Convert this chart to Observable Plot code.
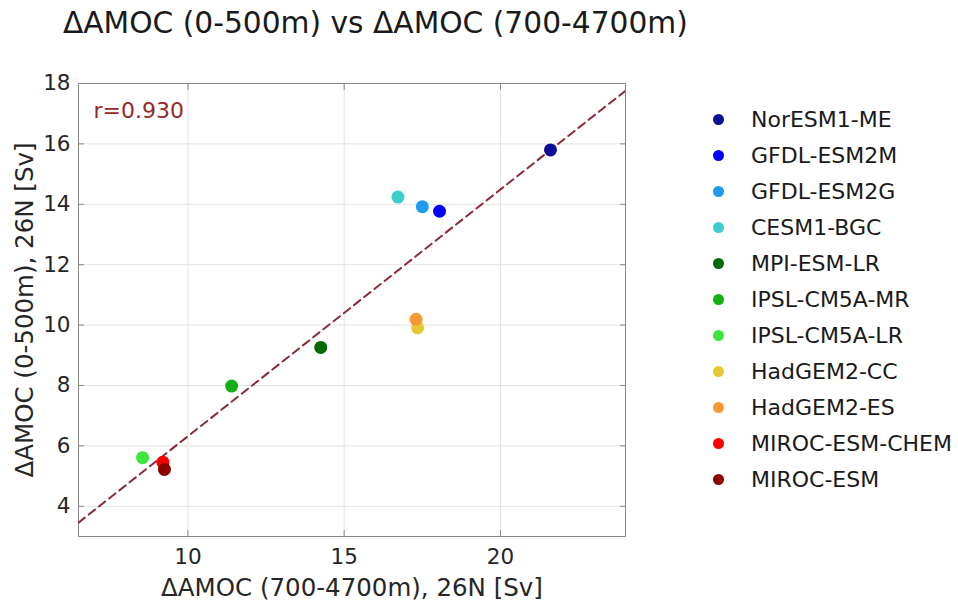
<!DOCTYPE html>
<html>
<head>
<meta charset="utf-8">
<script src="https://cdn.jsdelivr.net/npm/d3@7"></script>
<script src="https://cdn.jsdelivr.net/npm/@observablehq/plot@0.6"></script>
<style>
  html, body { margin: 0; padding: 0; background: #fff; }
  #wrap { position: relative; width: 958px; height: 601px; font-family: "DejaVu Sans", sans-serif; color: #262626; }
  #title { height: 42px; padding-top: 8px; padding-left: 63px; font-size: 29.7px; line-height: 30px; color: #1a1a1a; white-space: nowrap; }
  #legend { position: absolute; left: 712px; top: 101px; }
  .row { display: flex; align-items: center; height: 36.1px; font-size: 22px; color: #1a1a1a; white-space: nowrap; }
  .sw { width: 11px; height: 11px; border-radius: 50%; margin-left: 1px; margin-right: 27px; flex: none; }
</style>
</head>
<body>
<div id="wrap">
  <div id="title"></div>
  <div id="chart"></div>
  <div id="legend"></div>
</div>
<script>
const titleText = "ΔAMOC (0-500m) vs ΔAMOC (700-4700m)";
const xLabel = "ΔAMOC (700-4700m), 26N [Sv]";
const yLabel = "ΔAMOC (0-500m), 26N [Sv]";

const models = ["NorESM1-ME", "GFDL-ESM2M", "GFDL-ESM2G", "CESM1-BGC", "MPI-ESM-LR",
  "IPSL-CM5A-MR", "IPSL-CM5A-LR", "HadGEM2-CC", "HadGEM2-ES", "MIROC-ESM-CHEM", "MIROC-ESM"];
const deepAmoc = [21.6, 18.05, 17.5, 16.72, 14.25, 11.4, 8.55, 17.35, 17.3, 9.2, 9.25];
const upperAmoc = [15.8, 13.77, 13.92, 14.24, 9.26, 7.98, 5.61, 9.91, 10.19, 5.46, 5.22];
const colors = ["#0c0c94", "#0000fa", "#1e9bf0", "#3ccdcd", "#006a00",
  "#12b012", "#3ce63c", "#e6c832", "#f59a32", "#fa0000", "#8c0000"];

const rValue = 0.930;
const fitX = [6.5, 24];
const fitY = [3.46, 17.76];

const xTicks = [10, 15, 20];
const yTicks = [4, 6, 8, 10, 12, 14, 16, 18];
const xDomain = [6.5, 24];
const yDomain = [3, 18];

const points = models.map((m, i) => ({model: m, x: deepAmoc[i], y: upperAmoc[i], color: colors[i]}));
const fit = fitX.map((x, i) => ({x, y: fitY[i]}));

document.getElementById("title").textContent = titleText;

const frameColor = "#8a8a8a";
const plot = Plot.plot({
  width: 958,
  height: 551,
  marginLeft: 78,
  marginRight: 333,
  marginTop: 33,
  marginBottom: 65,
  x: {domain: xDomain},
  y: {domain: yDomain},
  color: {type: "identity"},
  style: {fontFamily: "DejaVu Sans, sans-serif", color: "#262626", background: "#fff"},
  marks: [
    Plot.gridX(xTicks, {stroke: "#e3e3e3", strokeOpacity: 1}),
    Plot.gridY(yTicks, {stroke: "#e3e3e3", strokeOpacity: 1}),
    Plot.axisX(xTicks, {anchor: "bottom", tickSize: -6, tickPadding: 18, fontSize: 21.5, label: null, stroke: frameColor, fill: "#262626"}),
    Plot.axisX(xTicks, {anchor: "top", tickSize: -6, tickFormat: () => "", label: null, stroke: frameColor}),
    Plot.axisY(yTicks, {anchor: "left", tickSize: -6, tickPadding: 14, fontSize: 21.5, label: null, stroke: frameColor, fill: "#262626"}),
    Plot.axisY(yTicks, {anchor: "right", tickSize: -6, tickFormat: () => "", label: null, stroke: frameColor}),
    Plot.frame({stroke: frameColor, strokeWidth: 1}),
    Plot.line(fit, {x: "x", y: "y", stroke: "#8c2a3a", strokeWidth: 2, strokeDasharray: "8,5", clip: true}),
    Plot.dot(points, {x: "x", y: "y", fill: "color", r: 6.5}),
    Plot.text([`r=${rValue.toFixed(3)}`], {frameAnchor: "top-left", dx: 15, dy: 19, fill: "#962a2a", fontSize: 22, textAnchor: "start"}),
    Plot.text([xLabel], {frameAnchor: "bottom", dy: 59, fontSize: 24.5, fill: "#262626"}),
    Plot.text([yLabel], {frameAnchor: "left", dx: -53, rotate: -90, textAnchor: "middle", lineAnchor: "middle", fontSize: 24.5, fill: "#262626"})
  ]
});
document.getElementById("chart").appendChild(plot);

const legend = document.getElementById("legend");
models.forEach((m, i) => {
  const row = document.createElement("div");
  row.className = "row";
  const sw = document.createElement("span");
  sw.className = "sw";
  sw.style.background = colors[i];
  const t = document.createElement("span");
  t.textContent = m;
  row.appendChild(sw);
  row.appendChild(t);
  legend.appendChild(row);
});
</script>
</body>
</html>
